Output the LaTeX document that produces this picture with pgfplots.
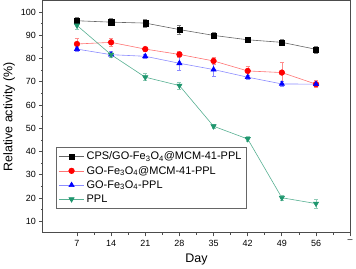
\documentclass[border=0pt]{standalone}
\usepackage{pgfplots}
\pgfplotsset{compat=1.18}
\usepackage{fontspec}
\setmainfont{Liberation Sans}
\definecolor{cgrn}{RGB}{31,150,110}
\begin{document}
\begin{tikzpicture}
\begin{axis}[
  scale only axis,
  width=307bp, height=232bp,
  xmin=0, xmax=63, ymin=5, ymax=105,
  xtick={7,14,21,28,35,42,49,56,63},
  xticklabels={7,14,21,28,35,42,49,56,--},
  minor x tick num=1,
  ytick={10,20,...,100},
  minor y tick num=1,
  tick align=outside,
  xtick pos=bottom, ytick pos=left,
  axis line style={draw=black!70, line width=1.1pt},
  major tick style={black!70, line width=0.8pt},
  minor tick style={black!70, line width=0.6pt},
  major tick length=3.5pt, minor tick length=2pt,
  tick label style={font=\fontsize{9}{10}\selectfont},
  /pgf/number format/assume math mode=true,
  xlabel={Day}, ylabel={Relative activity (\%)},
  label style={font=\fontsize{12.5}{14}\selectfont},
  xlabel style={yshift=-1pt},
  ylabel style={yshift=-1pt},
  legend style={at={(0.042,0.37)}, anchor=north west, draw=black!60, line width=0.6pt,
    font=\fontsize{11}{12}\selectfont, row sep=1pt, inner sep=2.5pt},
  legend cell align=left,
  legend image code/.code={\draw[mark repeat=2,mark phase=2] plot coordinates {(0cm,0cm) (0.45cm,0cm) (0.9cm,0cm)};},
  every axis plot/.append style={line width=0.6pt, error bars/y dir=both, error bars/y explicit,
     error bars/error mark options={rotate=90, mark size=2pt, line width=0.5pt}},
]
\addplot[color=black!60, mark=square*, mark options={fill=black, draw=black, line width=0.3pt}, mark size=2.6pt,
  error bars/error bar style={black!50}]
  table[x=x, y=y, y error=e] {
x y e
7 96.3 1.5
14 95.7 1.5
21 95.3 1.8
28 92.5 1.8
35 90.0 1.2
42 88.1 0.5
49 87.0 1.2
56 84.0 1.5
};
\addlegendentry{CPS/GO-Fe$_\mathrm{3}$O$_\mathrm{4}$@MCM-41-PPL}
\addplot[color=red!55, mark=*, mark options={fill=red, draw=red}, mark size=2.8pt,
  error bars/error bar style={red!45}]
  table[x=x, y=y, y error=e] {
x y e
7 86.3 2.6
14 87.0 1.8
21 84.1 0.8
28 81.8 1.2
35 79.0 1.5
42 74.7 1.8
49 74.0 4.5
56 69.0 1.5
};
\addlegendentry{GO-Fe$_\mathrm{3}$O$_\mathrm{4}$@MCM-41-PPL}
\addplot[color=blue!45, mark=triangle*, mark options={fill=blue, draw=blue}, mark size=3pt,
  error bars/error bar style={blue!45}]
  table[x=x, y=y, y error=e] {
x y e
7 84.1 1.0
14 81.7 1.3
21 81.0 1.0
28 78.0 3.0
35 75.3 3.0
42 72.0 1.0
49 69.1 1.0
56 69.0 1.0
};
\addlegendentry{GO-Fe$_\mathrm{3}$O$_\mathrm{4}$-PPL}
\addplot[color=cgrn!75, mark=triangle*, mark options={rotate=180, fill=cgrn, draw=cgrn}, mark size=3pt,
  error bars/error bar style={cgrn!50}]
  table[x=x, y=y, y error=e] {
x y e
7 94.3 1.5
14 81.7 1.0
21 72.0 1.5
28 68.4 1.5
35 50.9 1.0
42 45.4 1.0
49 20.1 1.0
56 17.6 2.0
};
\addlegendentry{PPL}
\end{axis}
\end{tikzpicture}
\end{document}
